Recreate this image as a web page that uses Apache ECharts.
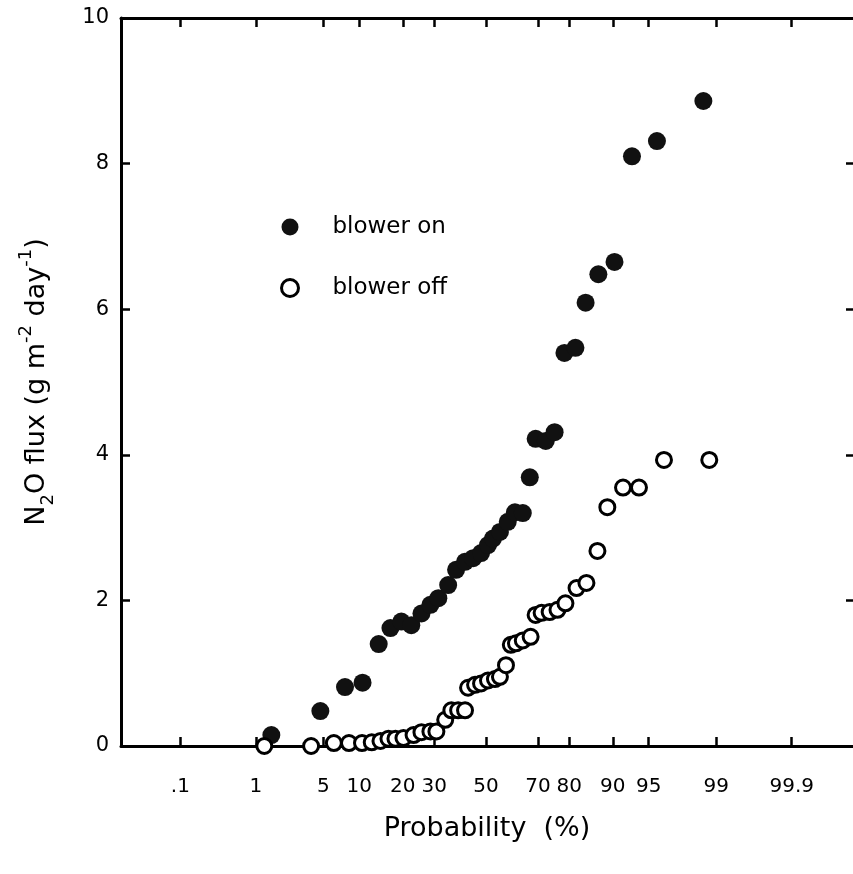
<!DOCTYPE html>
<html>
<head>
<meta charset="utf-8">
<script src="https://cdn.jsdelivr.net/npm/echarts@6/dist/echarts.min.js"></script>
<style>
  html, body { margin: 0; padding: 0; background: #fff; }
  #main { width: 853px; height: 874px; }
</style>
</head>
<body>
<div id="main"></div>
<script>
// cumulative probability (%) and N2O flux
var probOn = [1.5, 4.7, 7.7, 10.6, 13.9, 16.7, 19.6, 22.5, 25.7, 28.7, 31.5, 35.1, 38.1, 41.6, 44.8, 48.0, 50.8, 52.8, 55.6, 58.7, 61.5, 64.5, 67.1, 69.2, 72.7, 75.6, 78.6, 81.7, 84.3, 87.2, 90.3, 93.0, 95.8, 98.6];
var fluxOn = [0.15, 0.48, 0.81, 0.87, 1.40, 1.62, 1.71, 1.66, 1.82, 1.94, 2.03, 2.21, 2.42, 2.53, 2.58, 2.65, 2.76, 2.85, 2.94, 3.08, 3.21, 3.20, 3.69, 4.22, 4.19, 4.31, 5.40, 5.47, 6.09, 6.48, 6.65, 8.10, 8.31, 8.86];

var probOff = [1.25, 3.85, 6.2, 8.3, 10.5, 12.4, 14.3, 16.2, 18.0, 20.2, 23.2, 25.7, 28.7, 30.8, 34.0, 36.3, 38.9, 41.6, 42.8, 45.6, 48.0, 50.8, 53.6, 55.6, 58.0, 59.9, 61.9, 64.5, 67.4, 69.2, 71.3, 74.0, 76.5, 78.9, 82.0, 84.5, 87.0, 89.0, 91.7, 93.9, 96.4, 98.8];
var fluxOff = [0.0, 0.0, 0.04, 0.04, 0.04, 0.05, 0.07, 0.1, 0.1, 0.11, 0.15, 0.19, 0.2, 0.2, 0.36, 0.49, 0.49, 0.49, 0.8, 0.84, 0.86, 0.9, 0.92, 0.95, 1.11, 1.39, 1.41, 1.45, 1.5, 1.8, 1.83, 1.84, 1.87, 1.96, 2.17, 2.24, 2.68, 3.28, 3.55, 3.55, 3.93, 3.93];

var probTicks = [0.1, 1, 5, 10, 20, 30, 50, 70, 80, 90, 95, 99, 99.9];
var probTickLabels = ['.1', '1', '5', '10', '20', '30', '50', '70', '80', '90', '95', '99', '99.9'];

// inverse normal cdf (Acklam), probability paper axis
function probit(p) {
  var a = [-3.969683028665376e+01, 2.209460984245205e+02, -2.759285104469687e+02, 1.383577518672690e+02, -3.066479806614716e+01, 2.506628277459239e+00];
  var b = [-5.447609879822406e+01, 1.615858368580409e+02, -1.556989798598866e+02, 6.680131188771972e+01, -1.328068155288572e+01];
  var c = [-7.784894002430293e-03, -3.223964580411365e-01, -2.400758277161838e+00, -2.549732539343734e+00, 4.374664141464968e+00, 2.938163982698783e+00];
  var d = [7.784695709041462e-03, 3.224671290700398e-01, 2.445134137142996e+00, 3.754408661907416e+00];
  var plow = 0.02425, q, r;
  if (p < plow) {
    q = Math.sqrt(-2 * Math.log(p));
    return (((((c[0]*q+c[1])*q+c[2])*q+c[3])*q+c[4])*q+c[5]) / ((((d[0]*q+d[1])*q+d[2])*q+d[3])*q+1);
  }
  if (p > 1 - plow) {
    q = Math.sqrt(-2 * Math.log(1 - p));
    return -(((((c[0]*q+c[1])*q+c[2])*q+c[3])*q+c[4])*q+c[5]) / ((((d[0]*q+d[1])*q+d[2])*q+d[3])*q+1);
  }
  q = p - 0.5; r = q * q;
  return (((((a[0]*r+a[1])*r+a[2])*r+a[3])*r+a[4])*r+a[5])*q / (((((b[0]*r+b[1])*r+b[2])*r+b[3])*r+b[4])*r+1);
}

function toPoints(probs, vals) {
  return probs.map(function (p, i) { return [probit(p / 100), vals[i]]; });
}

var zTicks = probTicks.map(function (p) { return probit(p / 100); });
function tickLabel(v) {
  for (var i = 0; i < zTicks.length; i++) {
    if (Math.abs(zTicks[i] - v) < 1e-6) return probTickLabels[i];
  }
  return '';
}

var FONT = 'DejaVu Sans';
var chart = echarts.init(document.getElementById('main'));

var axisLine = { onZero: false, lineStyle: { color: '#000', width: 3 } };
var tickStyle = { inside: true, length: 9, lineStyle: { color: '#000', width: 2.5 } };
// right frame line falls just past the canvas edge, as in the scan
var zMin = -3.69, zMax = 3.71;

chart.setOption({
  backgroundColor: '#fff',
  animation: false,
  grid: { left: 121, right: -4, top: 18, bottom: 128 },
  legend: {
    orient: 'vertical',
    left: 275,
    top: 210,
    itemWidth: 17,
    itemHeight: 17,
    itemGap: 37,
    textStyle: { fontFamily: FONT, fontSize: 23, color: '#000', lineHeight: 24, padding: [0, 0, 0, 29] },
    data: [
      { name: 'blower on', icon: 'circle', itemStyle: { color: '#111', borderWidth: 0 } },
      { name: 'blower off', icon: 'circle', itemStyle: { color: '#fff', borderColor: '#000', borderWidth: 3 } }
    ]
  },
  xAxis: [{
    type: 'value',
    min: zMin,
    max: zMax,
    position: 'bottom',
    name: 'Probability  (%)',
    nameLocation: 'middle',
    nameGap: 69,
    nameTextStyle: { fontFamily: FONT, fontSize: 27, color: '#000' },
    axisLine: axisLine,
    axisTick: Object.assign({ customValues: zTicks }, tickStyle),
    axisLabel: {
      customValues: zTicks,
      formatter: tickLabel,
      margin: 31,
      fontFamily: FONT, fontSize: 20, color: '#000'
    },
    splitLine: { show: false }
  }, {
    type: 'value',
    min: zMin,
    max: zMax,
    position: 'top',
    axisLine: axisLine,
    axisTick: Object.assign({ customValues: zTicks }, tickStyle),
    axisLabel: { show: false },
    splitLine: { show: false }
  }],
  yAxis: [{
    type: 'value',
    min: 0,
    max: 10,
    interval: 2,
    position: 'left',
    name: '{m|N}{sub|2}{m|O flux (g m}{sup|-2}{m| day}{sup|-1}{m|)}',
    nameLocation: 'middle',
    nameRotate: 90,
    nameGap: 64,
    nameTextStyle: {
      rich: {
        m: { fontFamily: FONT, fontSize: 27, color: '#000', lineHeight: 40 },
        sub: { fontFamily: FONT, fontSize: 18, color: '#000', lineHeight: 16, verticalAlign: 'bottom' },
        sup: { fontFamily: FONT, fontSize: 18, color: '#000', lineHeight: 16, verticalAlign: 'top' }
      }
    },
    axisLine: axisLine,
    axisTick: tickStyle,
    axisLabel: { margin: 12, fontFamily: FONT, fontSize: 21, color: '#000' },
    splitLine: { show: false }
  }, {
    type: 'value',
    min: 0,
    max: 10,
    interval: 2,
    position: 'right',
    axisLine: { show: false, onZero: false },
    axisTick: { inside: true, length: 7, lineStyle: { color: '#000', width: 2.5 } },
    axisLabel: { show: false },
    splitLine: { show: false }
  }],
  series: [{
    name: 'blower on',
    type: 'scatter',
    symbol: 'circle',
    symbolSize: 18,
    clip: false,
    itemStyle: { color: '#111', opacity: 1 },
    data: toPoints(probOn, fluxOn)
  }, {
    name: 'blower off',
    type: 'scatter',
    symbol: 'circle',
    symbolSize: 15,
    clip: false,
    itemStyle: { color: '#fff', borderColor: '#000', borderWidth: 3, opacity: 1 },
    data: toPoints(probOff, fluxOff)
  }]
});
</script>
</body>
</html>
